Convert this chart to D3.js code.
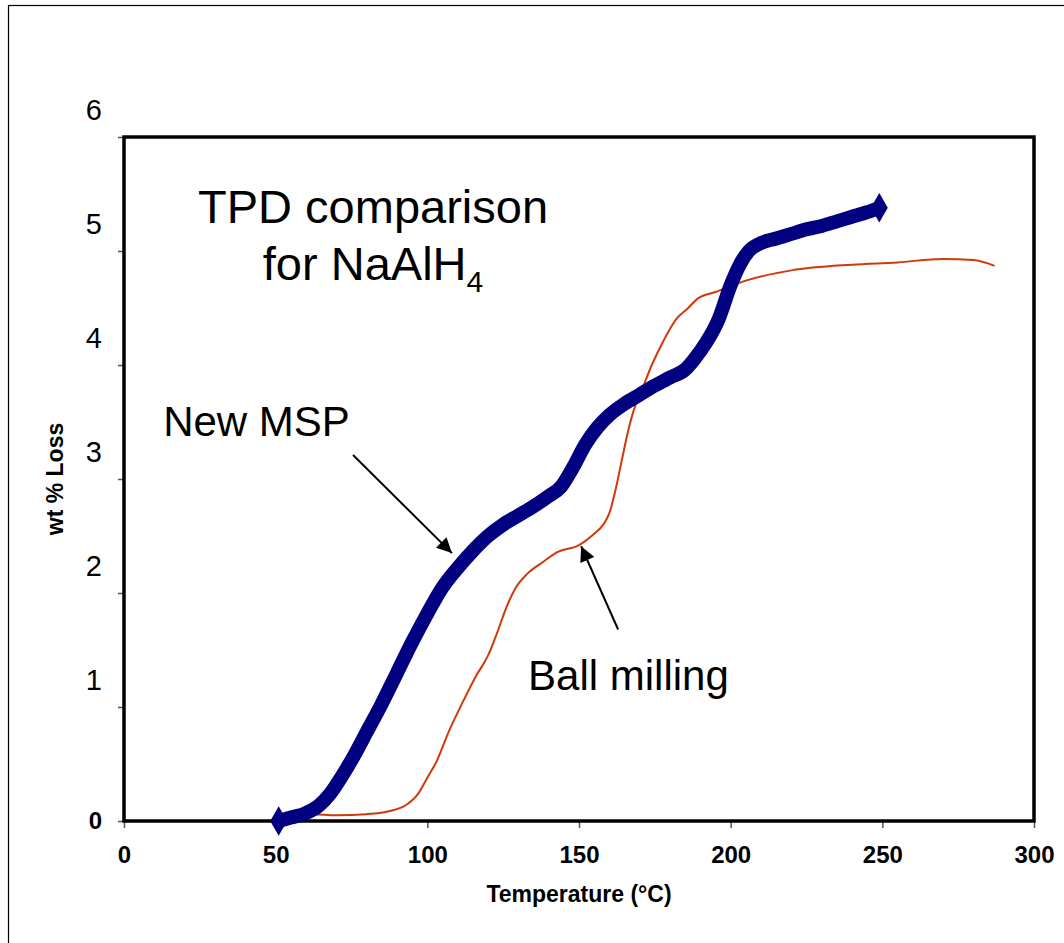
<!DOCTYPE html>
<html>
<head>
<meta charset="utf-8">
<script src="https://cdn.jsdelivr.net/npm/d3@7"></script>
<style>
  html, body { margin: 0; padding: 0; background: #fff; }
  svg { display: block; font-family: "Liberation Sans", Arial, sans-serif; }
</style>
</head>
<body>
<svg id="chart" width="1064" height="943"></svg>
<script>
// ---- data ----
const msTemp = [51, 55, 60, 64, 68, 72, 76, 80, 85, 90, 95, 100, 105, 110, 115, 120, 125, 130, 135, 140, 144, 148, 152, 156, 160, 165, 170, 175, 180, 185, 188, 192, 196, 200, 203, 206, 210, 215, 220, 225, 230, 235, 240, 245, 249];
const msLoss = [0.0, 0.03, 0.07, 0.13, 0.24, 0.40, 0.58, 0.78, 1.03, 1.30, 1.57, 1.82, 2.05, 2.22, 2.37, 2.50, 2.60, 2.68, 2.76, 2.85, 2.93, 3.10, 3.30, 3.45, 3.56, 3.66, 3.74, 3.82, 3.89, 3.96, 4.05, 4.20, 4.40, 4.70, 4.88, 5.00, 5.07, 5.11, 5.15, 5.19, 5.22, 5.26, 5.30, 5.34, 5.38];

const bmTemp = [54, 58, 62, 70, 80, 88, 93, 97, 100, 103, 107, 112, 116, 120, 123, 126, 129, 133, 138, 143, 150, 155, 158, 160, 162, 164, 166, 168, 171, 174, 178, 182, 186, 189, 195, 205, 220, 240, 255, 270, 280, 287];
const bmLoss = [0.03, 0.04, 0.06, 0.05, 0.06, 0.09, 0.14, 0.24, 0.38, 0.52, 0.78, 1.06, 1.27, 1.45, 1.65, 1.87, 2.04, 2.17, 2.27, 2.36, 2.42, 2.52, 2.60, 2.70, 2.90, 3.15, 3.40, 3.60, 3.80, 4.00, 4.22, 4.40, 4.50, 4.58, 4.64, 4.74, 4.83, 4.88, 4.90, 4.93, 4.92, 4.87];

const xTicks = [0, 50, 100, 150, 200, 250, 300];
const yTicks = [0, 1, 2, 3, 4, 5, 6];

const titleLines = ["TPD comparison", "for NaAlH"];
const xLabel = "Temperature (°C)";
const yLabel = "wt % Loss";

// ---- layout ----
const svg = d3.select("#chart");
const L = 124, R = 1034, T = 137, B = 821;

const x = d3.scaleLinear().domain([0, 300]).range([L, R]);
const y = d3.scaleLinear().domain([0, 6]).range([B, T]);

// outer frame
svg.append("rect")
  .attr("x", 8.5).attr("y", 5.5)
  .attr("width", 1100).attr("height", 1000)
  .attr("fill", "none").attr("stroke", "#000").attr("stroke-width", 1.2);

// axes
const gx = svg.append("g").attr("transform", `translate(0,${B})`)
  .call(d3.axisBottom(x).tickValues(xTicks).tickFormat(d3.format("d")).tickSize(7).tickPadding(18));
gx.select(".domain").remove();
gx.selectAll(".tick line").attr("stroke", "#555").attr("stroke-width", 1.5);
gx.selectAll(".tick text")
  .attr("fill", "#000")
  .style("font-size", "24px").style("font-weight", "bold")
  .style("font-family", "'Liberation Sans', Arial, sans-serif");

const gy = svg.append("g").attr("transform", `translate(${L},0)`)
  .call(d3.axisLeft(y).tickValues(yTicks).tickFormat(d3.format("d")).tickSize(6).tickPadding(16));
gy.select(".domain").remove();
gy.selectAll(".tick line").attr("stroke", "#555").attr("stroke-width", 1.5);
gy.selectAll(".tick text")
  .attr("fill", "#000")
  .style("font-family", "'Liberation Sans', Arial, sans-serif")
  .each(function(d) {
    const t = d3.select(this);
    if (d === 0) {
      t.style("font-size", "24px").style("font-weight", "bold");
    } else {
      t.style("font-size", "29px").attr("dy", "-0.6em");
    }
  });

// plot border
svg.append("rect")
  .attr("x", L).attr("y", T)
  .attr("width", R - L).attr("height", B - T)
  .attr("fill", "none").attr("stroke", "#000").attr("stroke-width", 3.5);

// axis titles
svg.append("text")
  .attr("x", (L + R) / 2).attr("y", 902)
  .attr("text-anchor", "middle")
  .style("font-size", "23px").style("font-weight", "bold")
  .text(xLabel);

svg.append("text")
  .attr("transform", `translate(63,${(T + B) / 2}) rotate(-90)`)
  .attr("text-anchor", "middle")
  .style("font-size", "23px").style("font-weight", "bold")
  .text(yLabel);

// series
const line = d3.line().x(d => x(d[0])).y(d => y(d[1])).curve(d3.curveMonotoneX);
const msData = msTemp.map((t, i) => [t, msLoss[i]]);
const bmData = bmTemp.map((t, i) => [t, bmLoss[i]]);

svg.append("path").datum(bmData)
  .attr("d", line)
  .attr("fill", "none").attr("stroke", "#d03a0a").attr("stroke-width", 2);

svg.append("path").datum(msData)
  .attr("d", line)
  .attr("fill", "none").attr("stroke", "#000080").attr("stroke-width", 14)
  .attr("stroke-linejoin", "round");

[msData[0], msData[msData.length - 1]].forEach(p => {
  svg.append("path")
    .attr("d", d3.symbol().type(d3.symbolDiamond).size(250)())
    .attr("transform", `translate(${x(p[0])},${y(p[1])})`)
    .attr("fill", "#000080");
});

// annotations
const annFont = "'Liberation Sans', Arial, sans-serif";
svg.append("text")
  .attr("x", x(82.1)).attr("y", y(5.25))
  .attr("text-anchor", "middle")
  .style("font-size", "47px").style("font-family", annFont)
  .text(titleLines[0]);

const t2 = svg.append("text")
  .attr("x", x(82.1)).attr("y", y(4.75))
  .attr("text-anchor", "middle")
  .style("font-size", "47px").style("font-family", annFont);
t2.append("tspan").text(titleLines[1]);
t2.append("tspan").attr("dy", 12).style("font-size", "30px").text("4");

svg.append("text")
  .attr("x", x(12.9)).attr("y", y(3.38))
  .style("font-size", "42px").style("font-family", annFont)
  .text("New MSP");

svg.append("text")
  .attr("x", x(133.2)).attr("y", y(1.15))
  .style("font-size", "42px").style("font-family", annFont)
  .text("Ball milling");

// arrows
const defs = svg.append("defs");
defs.append("marker")
  .attr("id", "arrow")
  .attr("viewBox", "0 0 10 10")
  .attr("refX", 10).attr("refY", 5)
  .attr("markerWidth", 9).attr("markerHeight", 7.5)
  .attr("markerUnits", "strokeWidth")
  .attr("orient", "auto")
  .append("path").attr("d", "M0,0 L10,5 L0,10 Z").attr("fill", "#000");

const arrows = [
  { from: [75.5, 3.21], to: [108.1, 2.35] },
  { from: [162.9, 1.68], to: [150.7, 2.41] }
];
arrows.forEach(a => {
  svg.append("line")
    .attr("x1", x(a.from[0])).attr("y1", y(a.from[1]))
    .attr("x2", x(a.to[0])).attr("y2", y(a.to[1]))
    .attr("stroke", "#000").attr("stroke-width", 2)
    .attr("marker-end", "url(#arrow)");
});
</script>
</body>
</html>
